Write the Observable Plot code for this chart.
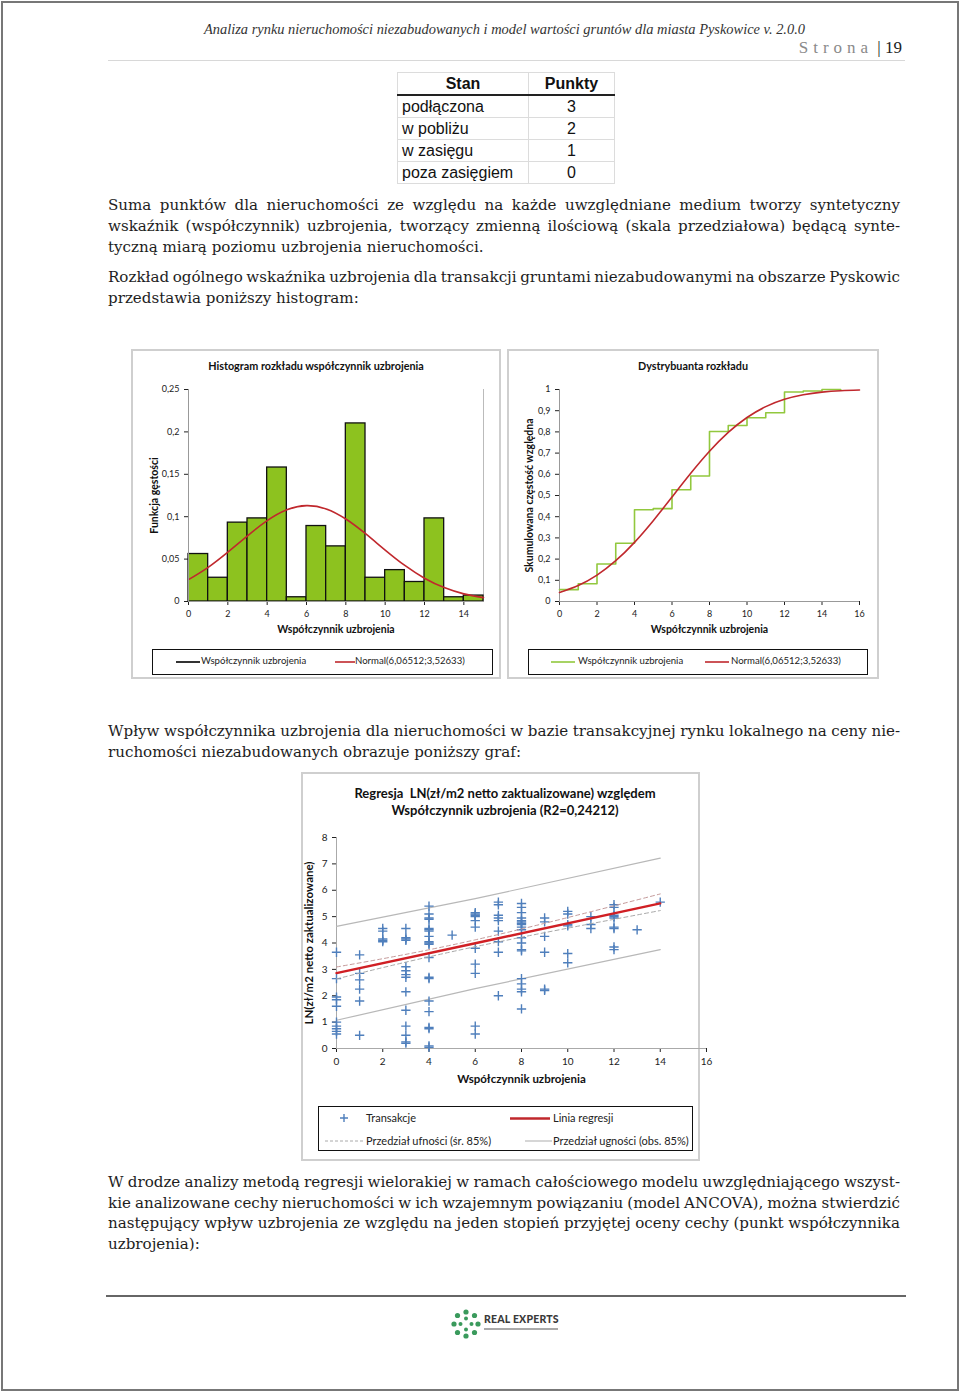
<!DOCTYPE html>
<html><head><meta charset="utf-8">
<script src="https://cdn.jsdelivr.net/npm/d3@7"></script>
<script src="https://cdn.jsdelivr.net/npm/@observablehq/plot@0.6"></script>
<style>
body{margin:0;background:#fff;}
#page{position:relative;width:960px;height:1393px;overflow:hidden;background:#fff;color:#1e1e1e;font-family:"DejaVu Serif",serif;}
.pb{position:absolute;left:1px;top:1px;width:954px;height:1386px;border:2px solid #777;}
.ln{position:absolute;left:108px;white-space:nowrap;font-size:15.1px;line-height:21px;display:inline-block;}
.box{position:absolute;border:2px solid #cfcfcf;box-sizing:border-box;background:#fff;}
.ctitle{position:absolute;font-family:Lato,sans-serif;font-weight:bold;font-size:10.8px;color:#111;white-space:nowrap;transform:translateX(-50%);}
.leg{position:absolute;border:1.5px solid #111;box-sizing:border-box;font-family:Lato,sans-serif;font-size:9.6px;color:#222;}
.leg span{position:absolute;white-space:nowrap;}
.leg svg{position:absolute;overflow:visible;}
.chart{position:absolute;}
.chart svg{overflow:visible;}
.chart g[aria-label="x-axis label"] text,.chart g[aria-label="y-axis label"] text{font-weight:bold;font-size:10.5px;fill:#111;}
#sc g[aria-label="x-axis label"] text,#sc g[aria-label="y-axis label"] text{font-size:11.5px;}
table.st{position:absolute;left:397px;top:72px;border-collapse:collapse;font-family:"Liberation Sans",Arial,sans-serif;font-size:16px;color:#111;}
table.st td{border:1px solid #dcdcdc;height:21px;padding:0 4px;line-height:21px;}
table.st tr.h td{font-weight:bold;border-bottom:2px solid #222;text-align:center;}
</style></head>
<body><div id="page">
<div class="pb"></div>
<div id="hdr" style="position:absolute;top:20px;left:204px;font-family:'Liberation Serif',serif;font-style:italic;font-size:15.5px;color:#333;white-space:nowrap;transform-origin:left center;">Analiza rynku nieruchomości niezabudowanych i model wartości gruntów dla miasta Pyskowice v. 2.0.0</div>
<div style="position:absolute;top:38px;right:58px;font-family:'Liberation Serif',serif;font-size:17px;white-space:nowrap;"><span style="color:#8a8a8a;letter-spacing:5px;">Strona</span> <span style="color:#222;">| 19</span></div>
<div style="position:absolute;left:108px;top:60px;width:797px;height:1px;background:#d8d8d8;"></div>

<table class="st">
<tr class="h"><td style="width:122px">Stan</td><td style="width:77px">Punkty</td></tr>
<tr><td>podłączona</td><td style="text-align:center">3</td></tr>
<tr><td>w pobliżu</td><td style="text-align:center">2</td></tr>
<tr><td>w zasięgu</td><td style="text-align:center">1</td></tr>
<tr><td>poza zasięgiem</td><td style="text-align:center">0</td></tr>
</table>

<div class="ln j" style="top:195px">Suma punktów dla nieruchomości ze względu na każde uwzględniane medium tworzy syntetyczny</div>
<div class="ln j" style="top:216px">wskaźnik (współczynnik) uzbrojenia, tworzący zmienną ilościową (skala przedziałowa) będącą synte-</div>
<div class="ln" style="top:237px">tyczną miarą poziomu uzbrojenia nieruchomości.</div>
<div class="ln j" style="top:267px">Rozkład ogólnego wskaźnika uzbrojenia dla transakcji gruntami niezabudowanymi na obszarze Pyskowic</div>
<div class="ln" style="top:288px">przedstawia poniższy histogram:</div>

<div class="box" style="left:131px;top:349px;width:370px;height:330px;"></div>
<div class="box" style="left:507px;top:349px;width:372px;height:330px;"></div>
<div class="ctitle" style="left:316px;top:359px;">Histogram rozkładu współczynnik uzbrojenia</div>
<div class="ctitle" style="left:693px;top:359px;">Dystrybuanta rozkładu</div>
<div id="h1" class="chart" style="left:131px;top:378px;"></div>
<div id="h2" class="chart" style="left:507px;top:378px;"></div>
<div class="leg" style="left:152px;top:649px;width:341px;height:26px;">
  <svg style="left:23px;top:11px" width="24" height="2"><line x1="0" y1="1" x2="24" y2="1" stroke="#000" stroke-width="1.6"/></svg>
  <span style="left:48px;top:5px">Współczynnik uzbrojenia</span>
  <svg style="left:182px;top:11px" width="20" height="2"><line x1="0" y1="1" x2="20" y2="1" stroke="#c0282d" stroke-width="1.6"/></svg>
  <span style="left:202px;top:5px">Normal(6,06512;3,52633)</span>
</div>
<div class="leg" style="left:528px;top:649px;width:340px;height:26px;">
  <svg style="left:22px;top:11px" width="24" height="2"><line x1="0" y1="1" x2="24" y2="1" stroke="#92c83e" stroke-width="1.6"/></svg>
  <span style="left:49px;top:5px">Współczynnik uzbrojenia</span>
  <svg style="left:176px;top:11px" width="24" height="2"><line x1="0" y1="1" x2="24" y2="1" stroke="#c0282d" stroke-width="1.6"/></svg>
  <span style="left:202px;top:5px">Normal(6,06512;3,52633)</span>
</div>

<div class="ln j" style="top:721px">Wpływ współczynnika uzbrojenia dla nieruchomości w bazie transakcyjnej rynku lokalnego na ceny nie-</div>
<div class="ln" style="top:742px">ruchomości niezabudowanych obrazuje poniższy graf:</div>

<div class="box" style="left:301px;top:772px;width:399px;height:389px;"></div>
<div class="ctitle" style="left:505px;top:785px;font-size:13px;">Regresja&nbsp; LN(zł/m2 netto zaktualizowane) względem</div>
<div class="ctitle" style="left:505px;top:802px;font-size:13px;">Współczynnik uzbrojenia (R2=0,24212)</div>
<div id="sc" class="chart" style="left:300px;top:825px;"></div>
<div class="leg" style="left:318px;top:1106px;width:375px;height:45px;font-size:11px;">
  <svg style="left:20px;top:6px" width="10" height="10"><path d="M5,1V9M1,5H9" stroke="#4f7fbc" stroke-width="1.4"/></svg>
  <span style="left:47px;top:4px">Transakcje</span>
  <svg style="left:191px;top:10px" width="40" height="3"><line x1="0" y1="1.5" x2="40" y2="1.5" stroke="#c0282d" stroke-width="2.4"/></svg>
  <span style="left:234px;top:4px">Linia regresji</span>
  <svg style="left:6px;top:33px" width="38" height="2"><line x1="0" y1="1" x2="38" y2="1" stroke="#aaa" stroke-width="1" stroke-dasharray="3,2"/></svg>
  <span style="left:47px;top:27px">Przedział ufności (śr. 85%)</span>
  <svg style="left:206px;top:33px" width="27" height="2"><line x1="0" y1="1" x2="27" y2="1" stroke="#bbb" stroke-width="1.2"/></svg>
  <span style="left:234px;top:27px">Przedział ugności (obs. 85%)</span>
</div>

<div class="ln j" style="top:1172px">W drodze analizy metodą regresji wielorakiej w ramach całościowego modelu uwzględniającego wszyst-</div>
<div class="ln j" style="top:1193px">kie analizowane cechy nieruchomości w ich wzajemnym powiązaniu (model ANCOVA), można stwierdzić</div>
<div class="ln j" style="top:1213px">następujący wpływ uzbrojenia ze względu na jeden stopień przyjętej oceny cechy (punkt współczynnika</div>
<div class="ln" style="top:1234px">uzbrojenia):</div>

<div style="position:absolute;left:106px;top:1295px;width:800px;height:2px;background:#666;"></div>
<svg style="position:absolute;left:450px;top:1308px" width="32" height="32" viewBox="-16 -16 32 32">
  <g fill="#3a9a5c">
    <circle cx="0" cy="-12" r="2.6"/><circle cx="8.5" cy="-8.5" r="2.6"/><circle cx="12" cy="0" r="2.6"/><circle cx="8.5" cy="8.5" r="2.6"/>
    <circle cx="0" cy="12" r="2.6"/><circle cx="-8.5" cy="8.5" r="2.6"/><circle cx="-12" cy="0" r="2.6"/><circle cx="-8.5" cy="-8.5" r="2.6"/>
    <circle cx="0" cy="-5.5" r="2"/><circle cx="5.5" cy="0" r="2"/><circle cx="0" cy="5.5" r="2"/><circle cx="-5.5" cy="0" r="2"/>
  </g>
</svg>
<div style="position:absolute;left:484px;top:1313px;font-family:Lato,sans-serif;font-weight:900;font-size:10.5px;color:#3a3a3a;letter-spacing:0.2px;white-space:nowrap;">REAL EXPERTS</div>
<div style="position:absolute;left:484px;top:1328px;width:74px;height:2px;background:#aaa;"></div>
</div>

<script>
// ---- Histogram data (bins of width 1) ----
const binStart = [0,1,2,3,4,5,6,7,8,9,10,11,12,13,14];
const density  = [0.056,0.028,0.093,0.098,0.158,0.005,0.089,0.065,0.210,0.028,0.037,0.023,0.098,0.005,0.007];
const histXTicks = [0,2,4,6,8,10,12,14];
const histYTicks = [0,0.05,0.1,0.15,0.2,0.25];
// ---- Normal(6,06512;3,52633) curve, read at integer x ----
const normX   = [0,1,2,3,4,5,6,7,8,9,10,11,12,13,14,15];
const normPdf = [0.0258,0.0403,0.0582,0.0775,0.0953,0.1081,0.1131,0.1092,0.0973,0.0800,0.0607,0.0425,0.0275,0.0164,0.0090,0.0046];
// ---- Distribution function ----
const cdfX    = [0,1,2,3,4,5,6,7,8,9,10,11,12,13,14,15,16];
const normCdf = [0.0427,0.0755,0.1245,0.1924,0.2791,0.3813,0.4926,0.6045,0.7084,0.7974,0.8678,0.9192,0.9538,0.9754,0.9878,0.9944,0.9976];
const cdfXTicks = [0,2,4,6,8,10,12,14,16];
const cdfYTicks = [0,0.1,0.2,0.3,0.4,0.5,0.6,0.7,0.8,0.9,1];
// ---- Regression scatter: transactions grouped by coefficient value ----
const groupX = [0,1,2,3,4,5,6,7,8,9,10,11,12,13,14];
const groupLn = [
  [3.65,2.65,1.95,1.85,1.6,1.0,0.85,0.75,0.65,0.55],
  [3.55,2.85,2.6,2.25,1.8,0.5],
  [4.55,4.45,4.15,4.1,4.05],
  [4.55,4.2,4.15,4.1,3.1,2.95,2.8,2.7,2.15,1.45,0.85,0.5,0.25,0.2],
  [5.4,5.1,4.95,4.9,4.55,4.5,4.45,4.25,4.05,4.0,3.95,3.45,2.7,2.65,1.8,1.4,0.8,0.75,0.1,0.05],
  [4.3],
  [5.15,5.1,5.05,5.0,4.85,4.6,3.8,3.2,2.85,0.85,0.55],
  [5.55,5.45,5.05,4.95,4.85,4.45,4.05,3.65,2.0],
  [5.5,5.35,5.15,4.95,4.85,4.8,4.75,4.7,4.6,4.5,4.2,4.0,3.75,3.7,2.65,2.45,2.25,2.15,1.5],
  [4.95,4.8,4.25,3.65,2.25,2.2],
  [5.2,5.1,4.7,4.65,3.6,3.25],
  [5.0,4.7,4.55],
  [5.45,5.35,5.05,5.0,4.95,4.6,4.55,3.85,3.75],
  [4.5],
  [5.55]
];
const bandX      = [0,6,14];
const regLine    = [2.86,3.99,5.50];
const confUpper  = [3.09,4.12,5.86];
const confLower  = [2.64,3.86,5.23];
const predUpper  = [4.63,5.68,7.22];
const predLower  = [1.07,2.27,3.75];
const scXTicks = [0,2,4,6,8,10,12,14,16];
const scYTicks = [0,1,2,3,4,5,6,7,8];

const comma = d => String(d).replace(".", ",");
const red = "#c0282d";
const baseStyle = {fontFamily:"Lato, sans-serif", fontSize:"9px", color:"#222", background:"transparent", overflow:"visible"};

const bins = binStart.map((x,i)=>({x0:x, x1:x+1, d:density[i]}));
const pdf = normX.map((x,i)=>({x, y:normPdf[i]}));
const cum = d3.cumsum(density);
const steps = binStart.map((x,i)=>({x, y:Math.min(1,cum[i])})).concat([{x:15, y:1}]);
const cdf = cdfX.map((x,i)=>({x, y:normCdf[i]}));
const pts = groupX.flatMap((x,i)=>groupLn[i].map(y=>({x, y})));
const band = (arr)=>bandX.map((x,i)=>({x, y:arr[i]}));

const h1 = Plot.plot({
  width:370, height:262, marginLeft:57, marginRight:18, marginTop:11, marginBottom:39,
  style: baseStyle,
  x:{domain:[0,15], ticks:histXTicks, tickSize:4, label:"Współczynnik uzbrojenia", labelAnchor:"center", labelArrow:"none", labelOffset:31},
  y:{domain:[0,0.25], ticks:histYTicks, tickSize:4, tickFormat:comma, label:"Funkcja gęstości", labelAnchor:"center", labelArrow:"none", labelOffset:38},
  marks:[
    Plot.ruleX([15], {stroke:"#bbb"}),
    Plot.rectY(bins, {x1:"x0", x2:"x1", y:"d", fill:"#8dc21f", stroke:"#111", strokeWidth:1.3}),
    Plot.line(pdf, {x:"x", y:"y", stroke:red, strokeWidth:1.6, curve:"natural"}),
    Plot.ruleY([0], {stroke:"#999"}),
    Plot.ruleX([0], {stroke:"#999"})
  ]
});
document.getElementById("h1").appendChild(h1);

const h2 = Plot.plot({
  width:371, height:262, marginLeft:52, marginRight:19, marginTop:11, marginBottom:39,
  style: baseStyle,
  x:{domain:[0,16], ticks:cdfXTicks, tickSize:4, label:"Współczynnik uzbrojenia", labelAnchor:"center", labelArrow:"none", labelOffset:31},
  y:{domain:[0,1], ticks:cdfYTicks, tickSize:4, tickFormat:comma, label:"Skumulowana częstość względna", labelAnchor:"center", labelArrow:"none", labelOffset:34},
  marks:[
    Plot.ruleY([0], {stroke:"#999"}),
    Plot.ruleX([0], {stroke:"#999"}),
    Plot.line(steps, {x:"x", y:"y", stroke:"#92c83e", strokeWidth:1.6, curve:"step-after"}),
    Plot.line(cdf, {x:"x", y:"y", stroke:red, strokeWidth:1.6, curve:"natural"})
  ]
});
document.getElementById("h2").appendChild(h2);

const sc = Plot.plot({
  width:415, height:265, marginLeft:36, marginRight:9, marginTop:12, marginBottom:42,
  style: {...baseStyle, fontSize:"10px"},
  x:{domain:[0,16], ticks:scXTicks, tickSize:4, label:"Współczynnik uzbrojenia", labelAnchor:"center", labelArrow:"none", labelOffset:34},
  y:{domain:[0,8], ticks:scYTicks, tickSize:4, label:"LN(zł/m2 netto zaktualizowane)", labelAnchor:"center", labelArrow:"none", labelOffset:32},
  marks:[
    Plot.ruleY([0], {stroke:"#aaa"}),
    Plot.ruleX([0], {stroke:"#aaa"}),
    Plot.line(band(predUpper), {x:"x", y:"y", stroke:"#b8b8b8", strokeWidth:1.2}),
    Plot.line(band(predLower), {x:"x", y:"y", stroke:"#b8b8b8", strokeWidth:1.2}),
    Plot.dot(pts, {x:"x", y:"y", symbol:"plus", r:3.1, stroke:"#4f7fbc", strokeWidth:1.4}),
    Plot.line(band(confUpper), {x:"x", y:"y", stroke:"#c49a9a", strokeWidth:1, strokeDasharray:"4,3", curve:"natural"}),
    Plot.line(band(confLower), {x:"x", y:"y", stroke:"#a8a8a8", strokeWidth:1, strokeDasharray:"4,3", curve:"natural"}),
    Plot.line(band(regLine), {x:"x", y:"y", stroke:"#d01f24", strokeWidth:2.4})
  ]
});
document.getElementById("sc").appendChild(sc);

function layoutText(){
  const hdr = document.getElementById("hdr");
  hdr.style.transform = "none";
  const w = hdr.getBoundingClientRect().width;
  hdr.style.transform = `scaleX(${601 / w})`;
  document.querySelectorAll(".ln.j").forEach(el=>{
    el.style.wordSpacing = "0px";
    const ww = el.getBoundingClientRect().width;
    const n = (el.textContent.match(/ /g)||[]).length;
    el.style.wordSpacing = ((792 - ww) / n) + "px";
  });
}
layoutText();
if (document.fonts && document.fonts.ready) document.fonts.ready.then(layoutText);
</script>
</body></html>
